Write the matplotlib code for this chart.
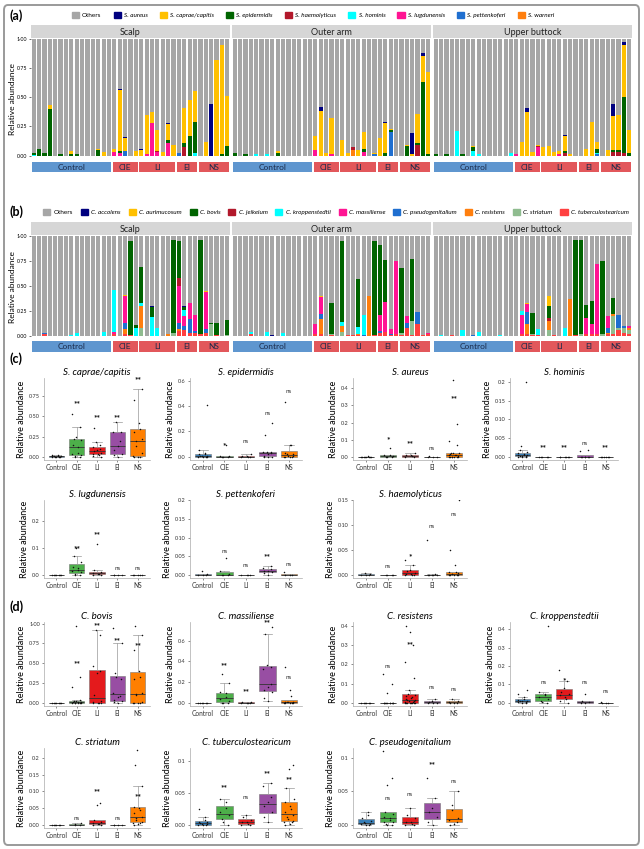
"""Staphylococcus / Corynebacterium relative abundance by body site and disease group."""

import numpy as np
import matplotlib
matplotlib.use("Agg")
import matplotlib.pyplot as plt
from matplotlib.patches import FancyBboxPatch, Patch

W, H = 644, 849
plt.rcParams["font.family"] = ["Lato", "DejaVu Sans"]

groups = ["Control", "CIE", "LI", "EI", "NS"]
group_sizes = [15, 5, 7, 4, 6]
sites = ["Scalp", "Outer arm", "Upper buttock"]

# ---- panel (a): Staphylococcus species per sample -------------------------
# sample index -> relative abundance
# samples 0-14 Control, 15-19 CIE, 20-26 LI, 27-30 EI, 31-36 NS
staph_names = ["Others", "S. aureus", "S. caprae/capitis", "S. epidermidis",
               "S. haemolyticus", "S. hominis", "S. lugdunensis",
               "S. pettenkoferi", "S. warneri"]
staph_colors = ["#a6a6a6", "#00007f", "#ffc000", "#006400", "#b2182b",
                "#00ffff", "#ff1493", "#1f6fd0", "#ff7f0e"]

scalp_staph = {
    "S. aureus": {16: .01, 17: .01, 20: .01, 25: .01, 33: .44},
    "S. caprae/capitis": {3: .03, 7: .03, 12: .01, 13: .03, 15: .03, 16: .52,
                          17: .11, 19: .04, 20: .05, 21: .34, 22: .09, 23: .18,
                          24: .03, 25: .14, 26: .09, 28: .30, 29: .31, 30: .26,
                          32: .12, 34: .82, 35: .94, 36: .43},
    "S. epidermidis": {0: .02, 1: .06, 2: .02, 3: .40, 5: .01, 7: .01, 8: .01,
                       12: .05, 16: .02, 25: .02, 28: .04, 29: .17, 30: .27,
                       35: .01, 36: .08},
    "S. haemolyticus": {23: .01, 28: .07},
    "S. hominis": {0: .005, 30: .02},
    "S. lugdunensis": {15: .03, 16: .02, 21: .01, 22: .28, 23: .03, 25: .11},
    "S. pettenkoferi": {17: .04, 27: .02},
    "S. warneri": {},
}
arm_staph = {
    "S. aureus": {16: .04, 28: .01, 33: .18, 35: .03},
    "S. caprae/capitis": {8: .02, 15: .12, 16: .38, 17: .02, 18: .31, 20: .13,
                          21: .02, 23: .05, 24: .14, 26: .01, 27: .15, 28: .26,
                          29: .01, 32: .01, 33: .01, 34: .25, 35: .22, 36: .71},
    "S. epidermidis": {0: .02, 2: .01, 8: .02, 24: .03, 28: .02, 29: .02,
                       32: .08, 34: .02, 35: .63, 36: .01},
    "S. haemolyticus": {22: .02, 34: .09},
    "S. hominis": {4: .01, 6: .01},
    "S. lugdunensis": {15: .05, 18: .01, 24: .03},
    "S. pettenkoferi": {26: .01, 29: .20},
    "S. warneri": {22: .05},
}
buttock_staph = {
    "S. aureus": {17: .04, 24: .01, 33: .10, 35: .02},
    "S. caprae/capitis": {7: .01, 16: .12, 17: .37, 18: .03, 19: .01, 20: .07,
                          21: .08, 22: .03, 23: .03, 24: .13, 25: .01, 28: .06,
                          29: .29, 30: .06, 32: .05, 33: .29, 34: .30, 35: .45,
                          36: .20},
    "S. epidermidis": {0: .01, 2: .01, 5: .01, 7: .03, 24: .02, 30: .04,
                       33: .02, 34: .02, 35: .48, 36: .02},
    "S. haemolyticus": {19: .01, 24: .02, 33: .03, 34: .03, 35: .02},
    "S. hominis": {4: .21, 7: .04, 8: .01, 14: .02, 30: .01},
    "S. lugdunensis": {15: .01, 19: .07, 23: .01},
    "S. pettenkoferi": {30: .01},
    "S. warneri": {},
}

# ---- panel (b): Corynebacterium species per sample ------------------------
coryne_names = ["Others", "C. accolens", "C. aurimucosum", "C. bovis",
                "C. jeikeium", "C. kroppenstedtii", "C. massiliense",
                "C. pseudogenitalium", "C. resistens", "C. striatum",
                "C. tuberculostearicum"]
coryne_colors = ["#a6a6a6", "#00007f", "#ffc000", "#006400", "#b2182b",
                 "#00ffff", "#ff1493", "#1f6fd0", "#ff7f0e", "#8fbc8f",
                 "#ff4040"]

scalp_coryne = {
    "C. accolens": {22: .01, 28: .01},
    "C. aurimucosum": {17: .01, 32: .01},
    "C. bovis": {18: .94, 19: .03, 20: .36, 22: .10, 26: .93, 27: .37, 28: .03,
                 31: .94, 33: .01, 34: .12, 36: .15},
    "C. jeikeium": {27: .08},
    "C. kroppenstedtii": {7: .01, 8: .03, 13: .04, 15: .42, 19: .08, 20: .03,
                          22: .19, 23: .08, 28: .06},
    "C. massiliense": {15: .02, 17: .27, 27: .37, 28: .10, 29: .16, 30: .16,
                       32: .37},
    "C. pseudogenitalium": {2: .01, 17: .06, 27: .06, 28: .04, 29: .14,
                            30: .02, 32: .04},
    "C. resistens": {17: .05, 20: .22, 25: .02, 27: .02},
    "C. striatum": {20: .08, 26: .03, 33: .12, 36: .01},
    "C. tuberculostearicum": {2: .02, 15: .02, 17: .02, 18: .01, 27: .05,
                              28: .06, 29: .03, 30: .03, 31: .02, 32: .03,
                              34: .01},
}
arm_coryne = {
    "C. accolens": {7: .01},
    "C. aurimucosum": {16: .01},
    "C. bovis": {18: .31, 20: .81, 23: .48, 26: .94, 27: .70, 28: .42, 31: .65,
                 33: .62},
    "C. jeikeium": {},
    "C. kroppenstedtii": {3: .02, 6: .04, 9: .03, 20: .04, 23: .07, 24: .20},
    "C. massiliense": {15: .10, 16: .17, 27: .16, 28: .30, 29: .05, 30: .73,
                       32: .07, 36: .01},
    "C. pseudogenitalium": {16: .05, 24: .01, 27: .02, 29: .01, 32: .05,
                            34: .12},
    "C. resistens": {16: .15, 20: .06, 23: .01, 25: .40},
    "C. striatum": {18: .01, 20: .04, 31: .02, 33: .14},
    "C. tuberculostearicum": {3: .02, 15: .02, 16: .02, 18: .01, 21: .01,
                              22: .01, 23: .01, 26: .01, 27: .03, 28: .04,
                              29: .01, 30: .02, 31: .01, 32: .08, 33: .01,
                              34: .12, 35: .01, 36: .02},
}
buttock_coryne = {
    "C. accolens": {},
    "C. aurimucosum": {17: .01, 21: .10},
    "C. bovis": {18: .21, 21: .12, 26: .95, 27: .94, 28: .13, 29: .23, 31: .73,
                 33: .16},
    "C. jeikeium": {21: .03},
    "C. kroppenstedtii": {1: .01, 5: .06, 8: .04, 12: .01, 16: .04, 19: .06,
                          24: .08},
    "C. massiliense": {16: .19, 17: .08, 28: .16, 29: .10, 30: .70, 32: .12,
                       36: .02},
    "C. pseudogenitalium": {7: .01, 17: .12, 32: .05, 34: .13, 35: .02},
    "C. resistens": {17: .10, 21: .09, 25: .37, 32: .01, 33: .02, 36: .02},
    "C. striatum": {18: .01, 21: .06, 27: .02, 31: .02, 33: .18, 34: .02,
                    35: .05, 36: .04},
    "C. tuberculostearicum": {3: .01, 16: .02, 17: .02, 18: .01, 19: .01,
                              22: .01, 26: .01, 28: .02, 29: .02, 30: .02,
                              32: .02, 33: .02, 34: .06, 35: .03, 36: .02},
}

# ---- panels (c) and (d): per-group sample values ---------------------------
box_colors = ["#377eb8", "#4daf4a", "#e41a1c", "#984ea3", "#ff7f00"]

caprae_box = {
    "Control": [0, 0, 0, 0, 0, .005, .01, .01, .01, .02, .02],
    "CIE": [0, 0, .01, .02, .03, .05, .12, .14, .21, .22, .25, .37, .53],
    "LI": [0, .01, .02, .03, .04, .05, .07, .08, .10, .12, .14, .18, .35],
    "EI": [0, .02, .03, .09, .13, .20, .30, .31, .43],
    "NS": [0, 0, 0, .01, .05, .13, .20, .22, .30, .34, .42, .70, .83],
}
caprae_sig = ["", "**", "**", "**", "**"]
caprae_sig_y = [0, .65, .48, .48, .95]

epidermidis_box = {
    "Control": [0, 0, 0, 0, .005, .01, .01, .02, .02, .03, .05, .41],
    "CIE": [0, 0, 0, .005, .01, .09],
    "LI": [0, 0, 0, .005, .01, .02],
    "EI": [0, 0, 0, .01, .02, .03, .04, .04, .04, .17, .27],
    "NS": [0, 0, 0, 0, .005, .01, .02, .025, .03, .09, .09, .43],
}
epidermidis_sig = ["", "*", "ns", "ns", "ns"]
epidermidis_sig_y = [0, .09, .12, .34, .51]

aureus_box = {
    "Control": [0, 0, 0, 0, 0, 0, 0, .002, .003],
    "CIE": [0, 0, 0, .005, .01, .01, .05],
    "LI": [0, 0, .005, .01, .01, .02],
    "EI": [0, 0, 0, .005],
    "NS": [0, 0, 0, 0, 0, 0, .002, .005, .008, .01, .012, .015, .02, .02,
           .025, .07, .09, .19, .45],
}
aureus_sig = ["", "*", "**", "ns", "**"]
aureus_sig_y = [0, .10, .075, .05, .34]

hominis_box = {
    "Control": [0, 0, 0, .001, .002, .003, .004, .005, .006, .008, .01,
                .013, .018, .03, .20],
    "CIE": [0, 0, 0, 0, 0],
    "LI": [0, 0, 0, 0, 0, 0],
    "EI": [0, 0, 0, 0, 0, 0, .015, .018],
    "NS": [0, 0, 0, 0, 0, 0],
}
hominis_sig = ["", "**", "**", "ns", "**"]
hominis_sig_y = [0, .025, .025, .035, .025]

lugdunensis_box = {
    "Control": [0, 0, 0, 0, 0, 0, .001],
    "CIE": [0, 0, .005, .01, .015, .02, .025, .03, .05, .07, .10],
    "LI": [0, 0, .003, .005, .008, .01, .02, .115],
    "EI": [0, 0, 0, 0],
    "NS": [0, 0, 0, 0, 0],
}
lugdunensis_sig = ["", "**", "**", "ns", "ns"]
lugdunensis_sig_y = [0, .10, .15, .025, .025]

pettenkoferi_box = {
    "Control": [0, 0, 0, .002, .01],
    "CIE": [0, 0, 0, .002, .01, .045],
    "LI": [0, 0, 0, 0],
    "EI": [0, .005, .008, .01, .012, .015, .02, .025],
    "NS": [0, 0, .001, .008],
}
pettenkoferi_sig = ["", "ns", "ns", "**", "ns"]
pettenkoferi_sig_y = [0, .062, .025, .048, .028]

haemolyticus_box = {
    "Control": [0, 0, 0, .002, .005],
    "CIE": [0, 0, 0, .001],
    "LI": [0, 0, 0, .002, .003, .005, .008, .01, .02, .03],
    "EI": [0, 0, 0, 0, 0, .002, .07],
    "NS": [0, 0, 0, 0, 0, .002, .003, .004, .006, .006, .02, .05, .15],
}
haemolyticus_sig = ["", "ns", "*", "ns", "ns"]
haemolyticus_sig_y = [0, .018, .036, .098, .12]

bovis_box = {
    "Control": [0, 0, 0, 0, 0, 0, 0],
    "CIE": [0, 0, 0, 0, 0, 0, .005, .01, .015, .02, .025, .03, .20, .32, .97],
    "LI": [0, 0, 0, 0, .01, .02, .10, .38, .40, .47, .85, .92],
    "EI": [0, .01, .02, .03, .07, .09, .12, .30, .32, .37, .75, .94],
    "NS": [0, 0, 0, 0, .01, .10, .11, .12, .30, .33, .40, .67, .85, .97],
}
bovis_sig = ["", "**", "**", "**", "**"]
bovis_sig_y = [0, .50, .97, .78, .72]

massiliense_box = {
    "Control": [0, 0, 0, 0, 0, 0],
    "CIE": [0, 0, 0, .02, .04, .06, .09, .10, .19, .28],
    "LI": [0, 0, 0, .002, .005, .01],
    "EI": [.02, .05, .10, .12, .15, .18, .33, .35, .36, .66, .73],
    "NS": [0, 0, 0, 0, .002, .005, .008, .01, .012, .07, .12, .35],
}
massiliense_sig = ["", "**", "**", "**", "ns"]
massiliense_sig_y = [0, .36, .11, .77, .24]

resistens_box = {
    "Control": [0, 0, 0, 0, 0, 0],
    "CIE": [0, 0, 0, 0, 0, 0, 0, 0, 0, 0, .05, .10, .15],
    "LI": [0, 0, 0, 0, 0, 0, 0, 0, .002, .005, .008, .01, .012, .015, .02,
           .025, .03, .035, .04, .045, .065, .13, .21, .30, .37, .40],
    "EI": [0, 0, 0, .005, .01, .02],
    "NS": [0, 0, 0, .005, .01, .02],
}
resistens_sig = ["", "ns", "**", "ns", "ns"]
resistens_sig_y = [0, .19, .30, .08, .07]

kroppenstedtii_box = {
    "Control": [0, 0, .002, .005, .008, .01, .01, .015, .02, .03, .05, .07],
    "CIE": [0, .005, .01, .02, .03, .04, .05, .06, .42],
    "LI": [0, .01, .02, .03, .04, .05, .06, .08, .12, .18],
    "EI": [0, 0, .005, .01, .05],
    "NS": [0, 0, 0, .005],
}
kroppenstedtii_sig = ["", "ns", "*", "ns", "ns"]
kroppenstedtii_sig_y = [0, .11, .12, .11, .06]

striatum_box = {
    "Control": [0, 0, 0, 0, 0, 0],
    "CIE": [0, 0, .002, .005],
    "LI": [0, 0, .002, .004, .006, .01, .015, .06, .065],
    "EI": [0, 0, 0, .001],
    "NS": [0, .002, .005, .006, .01, .015, .02, .025, .035, .045, .05,
           .055, .115, .18, .225],
}
striatum_sig = ["", "ns", "**", "ns", "**"]
striatum_sig_y = [0, .02, .10, .018, .085]

tuberculostearicum_box = {
    "Control": [0, 0, 0, .001, .002, .003, .004, .005, .008, .012, .025],
    "CIE": [0, .005, .01, .015, .02, .027, .035, .04],
    "LI": [0, 0, .002, .004, .005, .008, .012, .015],
    "EI": [.005, .012, .02, .03, .035, .044, .06, .065],
    "NS": [0, .002, .004, .005, .006, .01, .012, .015, .02, .025, .03, .035,
           .04, .058, .088, .093],
}
tuberculostearicum_sig = ["", "**", "ns", "**", "**"]
tuberculostearicum_sig_y = [0, .058, .043, .08, .07]

pseudogenitalium_box = {
    "Control": [0, 0, .001, .002, .003, .004, .006, .01, .015, .02],
    "CIE": [0, 0, .002, .004, .005, .008, .01, .012, .016, .02, .06, .07,
            .11],
    "LI": [0, 0, .002, .004, .005, .01, .015, .025],
    "EI": [0, .005, .012, .02, .025, .04, .07],
    "NS": [0, .002, .005, .007, .01, .022, .03, .05],
}
pseudogenitalium_sig = ["", "ns", "ns", "**", "ns"]
pseudogenitalium_sig_y = [0, .04, .045, .09, .065]


def px_axes(fig, x0, y0, x1, y1):
    return fig.add_axes([x0 / W, 1 - y1 / H, (x1 - x0) / W, (y1 - y0) / H])


def dot(v, d):
    return f"{v:.{d}f}".replace(".", "\u00b7")


def draw_stacked(fig, site_data, names, colors, strip_y, bar_y, label_y):
    n = sum(group_sizes)
    x = np.arange(n)
    site_x = [(31, 230), (232, 431), (433, 632)]
    for s, (x0, x1) in enumerate(site_x):
        # strip header
        sax = px_axes(fig, x0, strip_y[0], x1, strip_y[1])
        sax.set_facecolor("#d6d6d6")
        sax.set_xticks([])
        sax.set_yticks([])
        for sp in sax.spines.values():
            sp.set_visible(False)
        sax.text(0.5, 0.45, sites[s], ha="center", va="center", fontsize=6.5,
                 color="#222222", transform=sax.transAxes)

        ax = px_axes(fig, x0, bar_y[0], x1, bar_y[1])
        bottom = np.zeros(n)
        for name, color in zip(names[:0:-1], colors[:0:-1]):
            vals = np.zeros(n)
            for idx, v in site_data[s][name].items():
                vals[idx] = v
            ax.bar(x, vals, bottom=bottom, width=0.78, color=color, linewidth=0)
            bottom += vals
        ax.bar(x, 1 - bottom, bottom=bottom, width=0.78, color=colors[0],
               linewidth=0)
        ax.set_xlim(-0.5, n - 0.5)
        ax.set_ylim(-0.03, 1.0)
        ax.set_xticks([])
        for sp in ax.spines.values():
            sp.set_visible(False)
        if s == 0:
            ax.set_yticks([0, .25, .5, .75, 1.0])
            ax.set_yticklabels([dot(v, 2) for v in [0, .25, .5, .75, 1.0]],
                               fontsize=3.8)
            ax.tick_params(axis="y", length=1.5, width=0.4, pad=1)
            ax.set_ylabel("Relative abundance", fontsize=6, labelpad=1)
        else:
            ax.set_yticks([])

        # disease group labels under the bars
        lax = px_axes(fig, x0, label_y[0], x1, label_y[1])
        start = 0
        for g, size in zip(groups, group_sizes):
            color = "#5f96cf" if g == "Control" else "#e2575b"
            lax.barh(0, size - 0.35, left=start - 0.5 + 0.17, height=1,
                     color=color, linewidth=0)
            lax.text(start + size / 2 - 0.5, 0, g, ha="center", va="center",
                     fontsize=6, color="#1a2a4a")
            start += size
        lax.set_xlim(-0.5, n - 0.5)
        lax.set_ylim(-0.5, 0.5)
        lax.axis("off")


def draw_box(ax, title, data, sig, sig_y, yticks, yticklabels, ytop):
    values = [np.asarray(data[g], dtype=float) for g in groups]
    pos = np.arange(1, len(groups) + 1)
    bp = ax.boxplot(values, positions=pos, widths=0.75, patch_artist=True,
                    showfliers=False, capwidths=0.45,
                    medianprops=dict(color="#333333", linewidth=0.6),
                    whiskerprops=dict(color="#999999", linewidth=0.5),
                    capprops=dict(color="#999999", linewidth=0.5),
                    boxprops=dict(linewidth=0.4))
    for patch, c in zip(bp["boxes"], box_colors):
        patch.set_facecolor(c)
        patch.set_edgecolor("#777777")
    for i, v in enumerate(values):
        offs = 0.22 * np.sin(np.arange(len(v)) * 2.4 + i)
        ax.scatter(pos[i] + offs, v, s=1.2, color="#111111", linewidths=0,
                   zorder=3)
    for i, (lab, y) in enumerate(zip(sig, sig_y)):
        if lab:
            if lab == "ns":
                ax.text(pos[i], y, lab, ha="center", va="center", fontsize=4.5,
                        color="#333333")
            else:
                ax.text(pos[i], y, lab, ha="center", va="center", fontsize=6,
                        fontweight="bold", color="#111111")
    ax.set_xlim(0.4, 5.6)
    ax.set_ylim(-0.04 * ytop, ytop)
    ax.set_xticks(pos)
    ax.set_xticklabels(groups, fontsize=4.8)
    ax.set_yticks(yticks)
    ax.set_yticklabels(yticklabels, fontsize=4)
    ax.tick_params(axis="both", length=1.5, width=0.4, pad=1.5,
                   colors="#333333")
    for side in ["top", "right"]:
        ax.spines[side].set_visible(False)
    for side in ["left", "bottom"]:
        ax.spines[side].set_color("#aaaaaa")
        ax.spines[side].set_linewidth(0.5)
    ax.set_ylabel("Relative abundance", fontsize=6.5, labelpad=2)
    ax.set_title(title, fontsize=7, style="italic", pad=2.5)


def main():
    fig = plt.figure(figsize=(W / 100, H / 100), dpi=100)

    frame = FancyBboxPatch((4 / W, 4 / H), 1 - 9 / W, 1 - 9 / H,
                           boxstyle="round,pad=0,rounding_size=0.006",
                           transform=fig.transFigure, fill=False,
                           edgecolor="#9a9a9a", linewidth=1.4)
    fig.patches.append(frame)

    # (a)
    draw_stacked(fig, [scalp_staph, arm_staph, buttock_staph], staph_names,
                 staph_colors, (25, 38), (39, 159), (162, 172))
    handles = [Patch(color=c) for c in staph_colors]
    leg = fig.legend(handles, staph_names, loc="center", ncol=9,
                     bbox_to_anchor=(313 / W, 1 - 15 / H), frameon=False,
                     fontsize=4.6, handlelength=1.1, handleheight=1.1,
                     columnspacing=1.9, handletextpad=0.5)
    for t in leg.get_texts()[1:]:
        t.set_style("italic")

    # (b)
    draw_stacked(fig, [scalp_coryne, arm_coryne, buttock_coryne], coryne_names,
                 coryne_colors, (222, 235), (236, 339), (341, 352))
    handles = [Patch(color=c) for c in coryne_colors]
    leg = fig.legend(handles, coryne_names, loc="center", ncol=11,
                     bbox_to_anchor=(336 / W, 1 - 212 / H), frameon=False,
                     fontsize=4.6, handlelength=1.1, handleheight=1.1,
                     columnspacing=1.25, handletextpad=0.5)
    for t in leg.get_texts()[1:]:
        t.set_style("italic")

    for label, y in [("(a)", 16), ("(b)", 212), ("(c)", 359), ("(d)", 607)]:
        fig.text(9 / W, 1 - y / H, label, fontsize=9, fontweight="bold",
                 va="center", ha="left")

    # (c) and (d)
    cols = [(44, 150), (190, 302), (353, 467), (510, 618)]
    rows = [(378, 460), (500, 578), (622, 706), (748, 828)]
    t2 = ["0\u00b700", "0\u00b705", "0\u00b710", "0\u00b715", "0\u00b72"]
    t_quarter = [dot(v, 2) for v in [0, .25, .5, .75]]
    t_tenth = [dot(v, 1) for v in [0, .1, .2, .3, .4]]
    t_fifth = [dot(v, 1) for v in [0, .2, .4, .6]]
    specs = [
        (0, 0, "S. caprae/capitis", caprae_box, caprae_sig, caprae_sig_y,
         [0, .25, .5, .75], t_quarter, .97),
        (0, 1, "S. epidermidis", epidermidis_box, epidermidis_sig,
         epidermidis_sig_y, [0, .2, .4, .6], t_fifth, .62),
        (0, 2, "S. aureus", aureus_box, aureus_sig, aureus_sig_y,
         [0, .1, .2, .3, .4], t_tenth, .46),
        (0, 3, "S. hominis", hominis_box, hominis_sig, hominis_sig_y,
         [0, .05, .1, .15, .2], t2, .21),
        (1, 0, "S. lugdunensis", lugdunensis_box, lugdunensis_sig,
         lugdunensis_sig_y, [0, .1, .2], t_tenth[:3], .28),
        (1, 1, "S. pettenkoferi", pettenkoferi_box, pettenkoferi_sig,
         pettenkoferi_sig_y, [0, .05, .1, .15, .2], t2, .2),
        (1, 2, "S. haemolyticus", haemolyticus_box, haemolyticus_sig,
         haemolyticus_sig_y, [0, .05, .1, .15], t2[:4], .15),
        (2, 0, "C. bovis", bovis_box, bovis_sig, bovis_sig_y,
         [0, .25, .5, .75, 1.0], t_quarter + ["1\u00b700"], 1.02),
        (2, 1, "C. massiliense", massiliense_box, massiliense_sig,
         massiliense_sig_y, [0, .2, .4, .6], t_fifth, .78),
        (2, 2, "C. resistens", resistens_box, resistens_sig, resistens_sig_y,
         [0, .1, .2, .3, .4], t_tenth, .42),
        (2, 3, "C. kroppenstedtii", kroppenstedtii_box, kroppenstedtii_sig,
         kroppenstedtii_sig_y, [0, .1, .2, .3, .4], t_tenth, .44),
        (3, 0, "C. striatum", striatum_box, striatum_sig, striatum_sig_y,
         [0, .05, .1, .15, .2], t2, .23),
        (3, 1, "C. tuberculostearicum", tuberculostearicum_box,
         tuberculostearicum_sig, tuberculostearicum_sig_y, [0, .05, .1],
         ["0\u00b700", "0\u00b705", "0\u00b71"], .12),
        (3, 2, "C. pseudogenitalium", pseudogenitalium_box,
         pseudogenitalium_sig, pseudogenitalium_sig_y, [0, .05, .1],
         ["0\u00b700", "0\u00b705", "0\u00b71"], .115),
    ]
    for r, c, title, data, sig, sig_y, yt, ytl, ytop in specs:
        ax = px_axes(fig, cols[c][0], rows[r][0], cols[c][1], rows[r][1])
        draw_box(ax, title, data, sig, sig_y, yt, ytl, ytop)

    fig.savefig("out.png", dpi=100)


if __name__ == "__main__":
    main()
